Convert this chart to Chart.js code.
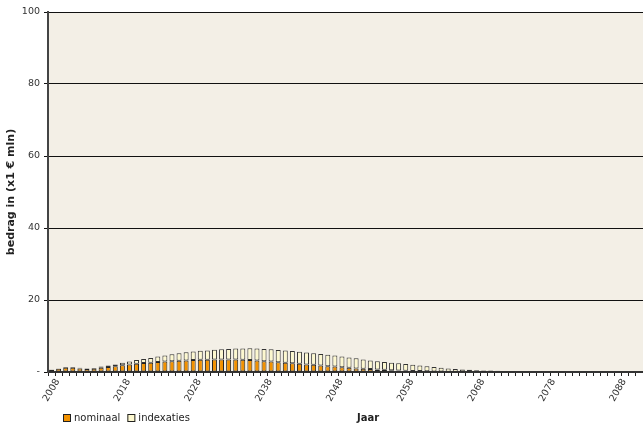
<!DOCTYPE html>
<html lang="nl">
<head>
  <meta charset="UTF-8">
  <title>bedrag per jaar</title>
  <script src="https://cdn.jsdelivr.net/npm/chart.js"></script>
  <style>
    body { margin: 0; background: #fff; }
    .wrap { width: 643px; height: 426px; }
  </style>
</head>
<body>
  <div class="wrap"><canvas id="chart" width="643" height="426"></canvas></div>
  <script>
    const years = [
      2008, 2009, 2010, 2011, 2012, 2013, 2014, 2015, 2016, 2017,
      2018, 2019, 2020, 2021, 2022, 2023, 2024, 2025, 2026, 2027,
      2028, 2029, 2030, 2031, 2032, 2033, 2034, 2035, 2036, 2037,
      2038, 2039, 2040, 2041, 2042, 2043, 2044, 2045, 2046, 2047,
      2048, 2049, 2050, 2051, 2052, 2053, 2054, 2055, 2056, 2057,
      2058, 2059, 2060, 2061, 2062, 2063, 2064, 2065, 2066, 2067,
      2068, 2069, 2070, 2071, 2072, 2073, 2074, 2075, 2076, 2077,
      2078, 2079, 2080, 2081, 2082, 2083, 2084, 2085, 2086, 2087,
      2088, 2089, 2090, 2091
    ];

    const nominaal = [
      0.6, 0.9, 1.2, 1.2, 1.0, 0.8, 0.9, 1.2, 1.4, 1.6,
      1.9, 2.1, 2.3, 2.5, 2.6, 2.8, 2.9, 3.0, 3.1, 3.2,
      3.3, 3.4, 3.4, 3.5, 3.5, 3.5, 3.5, 3.4, 3.3, 3.2,
      3.0, 2.9, 2.7, 2.6, 2.4, 2.3, 2.1, 2.0, 1.8, 1.6,
      1.5, 1.3, 1.2, 1.0, 0.9, 0.8, 0.7, 0.6, 0.5, 0.4,
      0.35, 0.3, 0.25, 0.2, 0.15, 0.12, 0.1, 0.08, 0.06, 0.05,
      0.04, 0.03, 0.02, 0, 0, 0, 0, 0, 0, 0,
      0, 0, 0, 0, 0, 0, 0, 0, 0, 0,
      0, 0, 0, 0
    ];

    const indexaties = [
      0.1, 0.1, 0.2, 0.2, 0.2, 0.2, 0.2, 0.3, 0.4, 0.5,
      0.7, 0.8, 1.0, 1.1, 1.3, 1.5, 1.7, 1.9, 2.1, 2.3,
      2.4, 2.5, 2.6, 2.7, 2.8, 2.9, 3.0, 3.1, 3.3, 3.3,
      3.4, 3.4, 3.4, 3.4, 3.4, 3.3, 3.3, 3.2, 3.2, 3.2,
      3.1, 3.0, 2.8, 2.8, 2.6, 2.4, 2.3, 2.2, 2.1, 2.0,
      1.85, 1.7, 1.55, 1.4, 1.25, 1.08, 0.9, 0.77, 0.64, 0.55,
      0.46, 0.42, 0.38, 0.34, 0.29, 0.24, 0.2, 0.15, 0.12, 0.1,
      0.08, 0.05, 0.03, 0, 0, 0, 0, 0, 0, 0,
      0, 0, 0, 0
    ];

    const yTicks = [0, 20, 40, 60, 80, 100];

    const FONT = "'DejaVu Sans', sans-serif";
    const ORANGE = '#f39200';
    const CREAM = '#fdf8cf';
    const PLOT_BG = '#f3efe6';

    // plot area fill + custom legend and x title on one line
    const decor = {
      id: 'decor',
      beforeDraw(chart) {
        const a = chart.chartArea;
        const ctx = chart.ctx;
        ctx.save();
        ctx.fillStyle = PLOT_BG;
        ctx.fillRect(a.left, a.top, a.right - a.left, a.bottom - a.top);
        ctx.restore();
      },
      afterDraw(chart) {
        const ctx = chart.ctx;
        ctx.save();
        ctx.font = '10px ' + FONT;
        ctx.textBaseline = 'middle';
        let x = 63;
        const y = 418;
        chart.data.datasets.forEach(ds => {
          ctx.fillStyle = ds.backgroundColor;
          ctx.fillRect(x, y - 4, 8, 8);
          ctx.strokeStyle = '#222';
          ctx.lineWidth = 1;
          ctx.strokeRect(x + 0.5, y - 3.5, 7, 7);
          ctx.fillStyle = '#222';
          ctx.fillText(ds.label, x + 11, y);
          x += 11 + ctx.measureText(ds.label).width + 7;
        });
        ctx.font = 'bold 10px ' + FONT;
        ctx.textAlign = 'center';
        ctx.fillText('Jaar', 368, y);
        ctx.restore();
      }
    };

    new Chart(document.getElementById('chart'), {
      type: 'bar',
      data: {
        labels: years,
        datasets: [
          {
            label: 'nominaal',
            data: nominaal,
            backgroundColor: ORANGE,
            borderColor: '#222',
            borderWidth: 1,
            borderSkipped: false,
            barPercentage: 0.7,
            categoryPercentage: 1
          },
          {
            label: 'indexaties',
            data: indexaties,
            backgroundColor: CREAM,
            borderColor: '#333',
            borderWidth: 1,
            borderSkipped: false,
            barPercentage: 0.7,
            categoryPercentage: 1
          }
        ]
      },
      options: {
        responsive: false,
        animation: false,
        layout: { padding: { top: 12, right: 0, bottom: 22, left: 0 } },
        plugins: {
          legend: { display: false },
          tooltip: { enabled: false }
        },
        scales: {
          x: {
            stacked: true,
            grid: { drawOnChartArea: false, drawTicks: true, tickLength: 4, color: '#222' },
            border: { color: '#333', width: 2 },
            ticks: {
              autoSkip: false,
              minRotation: 60,
              maxRotation: 60,
              labelOffset: 6,
              color: '#333',
              font: { family: FONT, size: 9.5 },
              padding: 1,
              callback: (v, i) => (years[i] - 2008) % 10 === 0 ? String(years[i]) : ''
            },
            afterFit(scale) {
              scale.height = 32;
              scale.paddingLeft = 0;
              scale.paddingRight = 0;
            }
          },
          y: {
            stacked: true,
            min: 0,
            max: 100,
            afterBuildTicks(scale) { scale.ticks = yTicks.map(v => ({ value: v })); },
            grid: { color: '#111', lineWidth: 1, tickLength: 4, drawTicks: true },
            border: { color: '#444', width: 2 },
            ticks: {
              color: '#333',
              font: { family: FONT, size: 9.5 },
              padding: 4,
              callback: v => v === 0 ? '-' : v
            },
            title: {
              display: true,
              text: 'bedrag in (x1 € mln)',
              color: '#222',
              font: { family: FONT, size: 11, weight: 'bold' },
              padding: { top: 5, bottom: 2 }
            },
            afterFit(scale) { scale.width = 48; }
          }
        }
      },
      plugins: [decor]
    });
  </script>
</body>
</html>
